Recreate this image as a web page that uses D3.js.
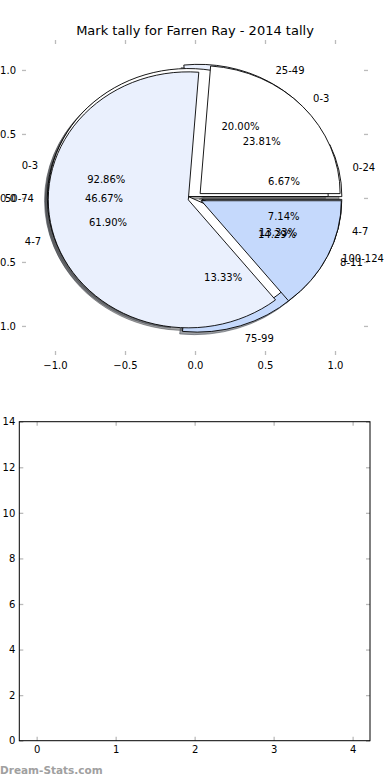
<!DOCTYPE html>
<html><head><meta charset="utf-8">
<script src="https://cdn.jsdelivr.net/npm/d3@7"></script>
<style>body{margin:0;background:#fff}svg{display:block}text{font-family:"DejaVu Sans",sans-serif}</style>
</head><body><svg id="c" width="390" height="780"></svg>
<script>
const titleText = "Mark tally for Farren Ray - 2014 tally";
const pieALabels = ["0-3", "4-7"];
const pieAValues = [13, 1];
const pieBLabels = ["0-24", "25-49", "50-74", "75-99", "100-124"];
const pieBValues = [1, 3, 7, 2, 2];
const pieCLabels = ["0-3", "4-7", "8-11"];
const pieCValues = [5, 13, 3];
const pieTicks = [-1, -0.5, 0, 0.5, 1];
const barXTicks = [0, 1, 2, 3, 4];
const barYTicks = [0, 2, 4, 6, 8, 10, 12, 14];
const palette = ["#ffffff", "#eaf0fd", "#c5d9fc", "#c5d9fc", "#ffffff"];
const explodeDist = 0.05;
const watermark = "Dream-Stats.com";

const svg = d3.select("#c");
const px = d3.scaleLinear().domain([-1.2357, 1.2357]).range([22, 368]);
const py = d3.scaleLinear().domain([-1.227, 1.234]).range([355, 40]);
const sx = px(1) - px(0), sy = py(0) - py(1);

svg.append("text").attr("x", 195).attr("y", 30).attr("dy", "0.35em")
  .attr("text-anchor", "middle").style("font-size", "13px").text(titleText);

function styleAxis(g, showText) {
  g.select(".domain").remove();
  g.selectAll(".tick line").attr("stroke", "#bbbbbb").attr("stroke-width", 1.3);
  g.attr("font-family", null).attr("font-size", null);
  g.selectAll(".tick text").attr("fill", "#000").style("font-size", "10px")
    .style("display", showText ? null : "none");
}

const fmt1 = d3.format(".1f");
svg.append("g").attr("transform", "translate(0,355)")
  .call(d3.axisBottom(px).tickValues(pieTicks).tickSize(-4).tickPadding(7).tickFormat(fmt1))
  .call(g => styleAxis(g, true));
svg.append("g").attr("transform", "translate(0,40)")
  .call(d3.axisTop(px).tickValues(pieTicks).tickSize(-4).tickFormat(""))
  .call(g => styleAxis(g, false));
svg.append("g").attr("transform", "translate(22,0)")
  .call(d3.axisLeft(py).tickValues(pieTicks).tickSize(-4).tickPadding(6).tickFormat(fmt1))
  .call(g => styleAxis(g, true));
svg.append("g").attr("transform", "translate(368,0)")
  .call(d3.axisRight(py).tickValues(pieTicks).tickSize(-4).tickFormat(""))
  .call(g => styleAxis(g, false));

const pieGen = d3.pie().sort(null).startAngle(Math.PI / 2).endAngle(Math.PI / 2 - 2 * Math.PI);
const arcGen = d3.arc().innerRadius(0).outerRadius(1);
function buildPie(labels, values) {
  const total = d3.sum(values);
  return pieGen(values).map((d, i) => {
    const am = (d.startAngle + d.endAngle) / 2;
    const ex = explodeDist * Math.sin(am), ey = explodeDist * Math.cos(am);
    return {d, i, label: labels[i], pct: d3.format(".2f")(values[i] / total * 100) + "%",
      ex, ey, sa: Math.sin(am), ca: Math.cos(am), color: palette[i % palette.length]};
  });
}
const pies = [buildPie(pieBLabels, pieBValues), buildPie(pieALabels, pieAValues), buildPie(pieCLabels, pieCValues)];

const shadowLayer = svg.append("g");
const wedgeLayer = svg.append("g");
const textLayer = svg.append("g");

pies.forEach(p => {
  shadowLayer.append("g").selectAll("path").data(p).join("path")
    .attr("transform", w => `translate(${px(w.ex - 0.02)},${py(w.ey - 0.02)}) scale(${sx},${sy})`)
    .attr("d", w => arcGen(w.d))
    .attr("fill", w => { const c = d3.rgb(w.color); return d3.rgb(c.r * 0.3, c.g * 0.3, c.b * 0.3); })
    .attr("fill-opacity", 0.5)
    .attr("stroke", w => { const c = d3.rgb(w.color); return d3.rgb(c.r * 0.3, c.g * 0.3, c.b * 0.3); })
    .attr("stroke-opacity", 0.5)
    .attr("stroke-width", 1).attr("vector-effect", "non-scaling-stroke");
});
pies.forEach(p => {
  wedgeLayer.append("g").selectAll("path").data(p).join("path")
    .attr("transform", w => `translate(${px(w.ex)},${py(w.ey)}) scale(${sx},${sy})`)
    .attr("d", w => arcGen(w.d))
    .attr("fill", w => w.color)
    .attr("stroke", "#000").attr("stroke-width", 0.9)
    .attr("stroke-linejoin", "miter")
    .attr("vector-effect", "non-scaling-stroke");
});
pies.forEach(p => {
  p.forEach(w => {
    const lx = w.ex + 1.1 * w.sa, ly = w.ey + 1.1 * w.ca;
    textLayer.append("text").attr("x", px(lx)).attr("y", py(ly)).attr("dy", "0.4em")
      .attr("text-anchor", lx > 0 ? "start" : "end").style("font-size", "10px").text(w.label);
    const tx = w.ex + 0.6 * w.sa, ty = w.ey + 0.6 * w.ca;
    textLayer.append("text").attr("x", px(tx)).attr("y", py(ty)).attr("dy", "0.4em")
      .attr("text-anchor", "middle").style("font-size", "10px").text(w.pct);
  });
});

const bx = d3.scaleLinear().domain([-0.22, 4.22]).range([19.3, 370]);
const by = d3.scaleLinear().domain([0, 14]).range([740.7, 421.7]);
svg.append("g").attr("transform", "translate(0,740.7)")
  .call(d3.axisBottom(bx).tickValues(barXTicks).tickSize(-4).tickPadding(5).tickFormat(d3.format("d")))
  .call(g => styleAxis(g, true));
svg.append("g").attr("transform", "translate(0,421.7)")
  .call(d3.axisTop(bx).tickValues(barXTicks).tickSize(-4).tickFormat(""))
  .call(g => styleAxis(g, false));
svg.append("g").attr("transform", "translate(19.3,0)")
  .call(d3.axisLeft(by).tickValues(barYTicks).tickSize(-4).tickPadding(4).tickFormat(d3.format("d")))
  .call(g => styleAxis(g, true));
svg.append("g").attr("transform", "translate(370,0)")
  .call(d3.axisRight(by).tickValues(barYTicks).tickSize(-4).tickFormat(""))
  .call(g => styleAxis(g, false));
svg.append("rect").attr("x", bx.range()[0]).attr("y", by.range()[1])
  .attr("width", bx.range()[1] - bx.range()[0]).attr("height", by.range()[0] - by.range()[1])
  .attr("fill", "none").attr("stroke", "#000").attr("stroke-width", 1);

svg.append("text").attr("x", 0).attr("y", 770).attr("dy", "0.35em")
  .style("font-size", "10.5px").style("font-weight", "bold").attr("fill", "#a0a0a0").text(watermark);
</script></body></html>
